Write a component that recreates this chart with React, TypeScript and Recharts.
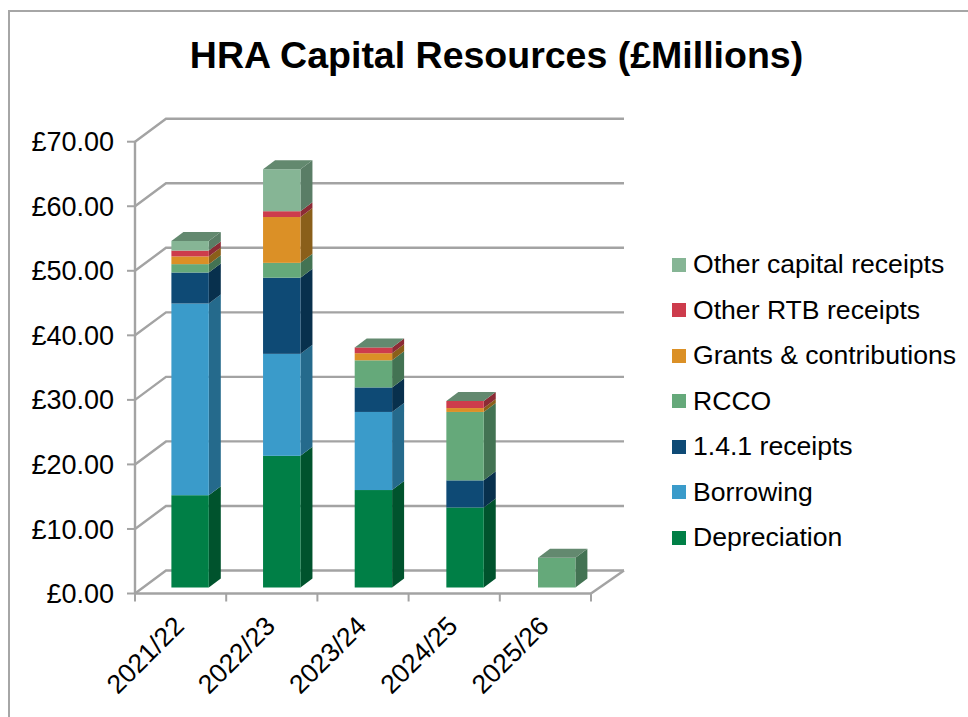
import React from 'react';
import { BarChart, Bar, XAxis, YAxis, CartesianGrid, Legend } from 'recharts';

const FONT = '"Liberation Sans", Arial, sans-serif';
const GRID = '#a3a3a3';

const categories = ['2021/22', '2022/23', '2023/24', '2024/25', '2025/26'];
const depreciation = [14.3, 20.4, 15.1, 12.4, 0];
const borrowing = [29.7, 15.8, 12.1, 0, 0];
const receipts141 = [4.8, 11.8, 3.8, 4.2, 0];
const rcco = [1.3, 2.3, 4.2, 10.6, 4.6];
const grants = [1.2, 7.1, 1.1, 0.6, 0];
const rtb = [0.9, 0.9, 0.9, 1.1, 0];
const otherCapital = [1.5, 6.5, 0, 0, 0];
const yTicks = [0, 10, 20, 30, 40, 50, 60, 70];

const series = [
  { key: 'depreciation', name: 'Depreciation', values: depreciation, fill: '#007f46', side: '#00532d' },
  { key: 'borrowing', name: 'Borrowing', values: borrowing, fill: '#3a9bca', side: '#256a8c' },
  { key: 'receipts141', name: '1.4.1 receipts', values: receipts141, fill: '#0e4a75', side: '#08304d' },
  { key: 'rcco', name: 'RCCO', values: rcco, fill: '#65a97a', side: '#437353' },
  { key: 'grants', name: 'Grants & contributions', values: grants, fill: '#db9026', side: '#8a5f1a' },
  { key: 'rtb', name: 'Other RTB receipts', values: rtb, fill: '#cd3c4c', side: '#8c2b35' },
  { key: 'otherCapital', name: 'Other capital receipts', values: otherCapital, fill: '#86b595', side: '#5a7d66' },
];

const data = categories.map((year, i) => {
  const row: Record<string, string | number> = { year };
  series.forEach((s) => { row[s.key] = s.values[i]; });
  return row;
});

// fake 3D: wall depth of the plot and depth of each column
const WALL_DX = 31;
const WALL_DY = 23;
const BAR_DX = 12;
const BAR_DY = 9;
const BAR_SHIFT_X = 9.4;
const BAR_SHIFT_Y = 6;
const BAR_SPREAD = 0.45; // columns fan out slightly towards the right
const BAND = 91.2;

const Box = (props: any) => {
  const { x, y, width: w, height: h, fill, side, top, index } = props;
  const l = x + BAR_SHIFT_X + index * BAR_SPREAD;
  const t = y - BAR_SHIFT_Y;
  const r = l + w;
  const b = t + h;
  return (
    <g>
      <polygon points={`${r},${t} ${r + BAR_DX},${t - BAR_DY} ${r + BAR_DX},${b - BAR_DY} ${r},${b}`} fill={side} />
      <rect x={l} y={t} width={w} height={h} fill={fill} />
      {top && (
        <polygon points={`${l},${t} ${l + BAR_DX},${t - BAR_DY} ${r + BAR_DX},${t - BAR_DY} ${r},${t}`} fill="#63896f" />
      )}
    </g>
  );
};

const WallLine = (props: any) => {
  const { x1, x2, y1 } = props;
  return (
    <g>
      <polyline
        points={`${x1},${y1} ${x1 + WALL_DX},${y1 - WALL_DY} ${x2 + 33},${y1 - WALL_DY}`}
        fill="none"
        stroke={GRID}
        strokeWidth={2.4}
      />
      {y1 > 580 && <line x1={x2} y1={y1} x2={x2 + 33} y2={y1 - WALL_DY} stroke={GRID} strokeWidth={2.4} />}
    </g>
  );
};

const YearTick = (props: any) => {
  const { x, y, payload, index } = props;
  return (
    <g>
      <line x1={x - BAND / 2} y1={y - 8} x2={x - BAND / 2} y2={y} stroke={GRID} strokeWidth={2} />
      {index === categories.length - 1 && (
        <line x1={x + BAND / 2} y1={y - 8} x2={x + BAND / 2} y2={y} stroke={GRID} strokeWidth={2} />
      )}
      <text
        x={x + 5}
        y={y + 26}
        textAnchor="end"
        fontSize={26.5}
        fontFamily={FONT}
        fill="#000"
        transform={`rotate(-45 ${x + 5} ${y + 26})`}
      >
        {payload.value}
      </text>
    </g>
  );
};

const LegendList = (props: any) => {
  const items = [...(props.payload || [])].reverse();
  return (
    <div>
      {items.map((item: any) => (
        <div key={item.value} style={{ display: 'flex', alignItems: 'center', height: 45.5 }}>
          <span style={{ width: 14, height: 14, background: item.color, marginRight: 7, flex: 'none' }} />
          <span style={{ fontFamily: FONT, fontSize: 26.6, color: '#000', whiteSpace: 'nowrap' }}>{item.value}</span>
        </div>
      ))}
    </div>
  );
};

export default function App() {
  return (
    <div style={{ position: 'absolute', left: 0, top: 0, width: 968, height: 717, overflow: 'hidden', background: '#fff' }}>
      <div style={{ position: 'absolute', left: 8, top: 10, width: 980, height: 740, border: '2px solid #a6a6a6' }} />
      <BarChart
        width={968}
        height={717}
        data={data}
        barSize={37.4}
        margin={{ top: 141.7, right: 377, bottom: 23.5, left: 35 }}
        style={{ position: 'absolute', left: 0, top: 0 }}
      >
        <text x={496.5} y={68} textAnchor="middle" fontSize={37.5} fontWeight="bold" fontFamily={FONT} fill="#000">
          HRA Capital Resources (£Millions)
        </text>
        <CartesianGrid vertical={false} horizontal={WallLine} />
        <XAxis
          dataKey="year"
          height={100}
          interval={0}
          tick={YearTick}
          tickLine={false}
          axisLine={{ stroke: GRID, strokeWidth: 2.4 }}
        />
        <YAxis
          width={100}
          domain={[0, 70]}
          ticks={yTicks}
          interval={0}
          tickSize={8}
          tickMargin={13}
          tickFormatter={(v: number) => `£${v.toFixed(2)}`}
          tick={{ fontSize: 27, fontFamily: FONT, fill: '#000' }}
          tickLine={{ stroke: GRID, strokeWidth: 2 }}
          axisLine={{ stroke: GRID, strokeWidth: 2.4 }}
        />
        <Legend
          layout="vertical"
          align="center"
          verticalAlign="middle"
          content={LegendList}
          itemSorter={null}
          wrapperStyle={{ left: 672, top: 242, width: 296 }}
        />
        {series.map((s, i) => (
          <Bar
            key={s.key}
            dataKey={s.key}
            name={s.name}
            stackId="resources"
            fill={s.fill}
            isAnimationActive={false}
            shape={(p: any) => <Box {...p} side={s.side} top={i === series.length - 1} />}
          />
        ))}
      </BarChart>
    </div>
  );
}
